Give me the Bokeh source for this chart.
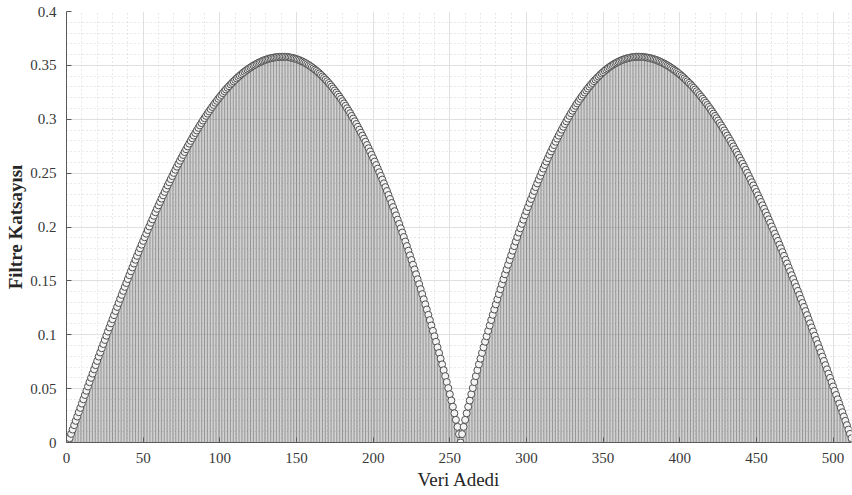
from bokeh.plotting import figure
from bokeh.models import Range1d, FixedTicker, ColumnDataSource
from bokeh.embed import file_html
from bokeh.resources import INLINE

# ---- data (stem plot, 512 samples) ----
left_rise = [
    0.0000, 0.0040, 0.0080, 0.0120, 0.0161, 0.0201, 0.0241, 0.0281, 0.0321, 0.0361,
    0.0401, 0.0441, 0.0480, 0.0520, 0.0560, 0.0600, 0.0639, 0.0679, 0.0718, 0.0757,
    0.0797, 0.0836, 0.0875, 0.0914, 0.0952, 0.0991, 0.1030, 0.1068, 0.1106, 0.1144,
    0.1182, 0.1220, 0.1258, 0.1295, 0.1333, 0.1370, 0.1407, 0.1444, 0.1480, 0.1517,
    0.1553, 0.1589, 0.1625, 0.1661, 0.1696, 0.1732, 0.1767, 0.1802, 0.1836, 0.1871,
    0.1905, 0.1938, 0.1972, 0.2005, 0.2039, 0.2071, 0.2104, 0.2137, 0.2169, 0.2201,
    0.2232, 0.2263, 0.2294, 0.2325, 0.2355, 0.2386, 0.2415, 0.2444, 0.2473, 0.2502,
    0.2531, 0.2560, 0.2587, 0.2615, 0.2642, 0.2669, 0.2696, 0.2722, 0.2748, 0.2774,
    0.2799, 0.2824, 0.2848, 0.2872, 0.2896, 0.2920, 0.2943, 0.2965, 0.2988, 0.3010,
    0.3031, 0.3052, 0.3073, 0.3094, 0.3114, 0.3133, 0.3153, 0.3171, 0.3190, 0.3208,
    0.3225, 0.3243, 0.3260, 0.3276, 0.3292, 0.3307, 0.3323, 0.3337, 0.3352, 0.3365,
    0.3379, 0.3392, 0.3405, 0.3417, 0.3429, 0.3440, 0.3451, 0.3461, 0.3471, 0.3481,
    0.3490, 0.3499, 0.3507, 0.3515, 0.3522, 0.3529, 0.3536, 0.3542, 0.3548, 0.3553,
    0.3557, 0.3562, 0.3566, 0.3569, 0.3572, 0.3574, 0.3576, 0.3578, 0.3579, 0.3580,
    0.3580,
]
left_fall = [
    0.3580, 0.3579, 0.3578, 0.3576, 0.3573, 0.3570, 0.3567, 0.3563, 0.3558, 0.3553,
    0.3548, 0.3541, 0.3535, 0.3527, 0.3520, 0.3511, 0.3502, 0.3493, 0.3483, 0.3472,
    0.3461, 0.3450, 0.3437, 0.3425, 0.3411, 0.3397, 0.3383, 0.3368, 0.3353, 0.3336,
    0.3320, 0.3303, 0.3285, 0.3267, 0.3248, 0.3229, 0.3209, 0.3189, 0.3168, 0.3147,
    0.3125, 0.3102, 0.3079, 0.3056, 0.3031, 0.3006, 0.2981, 0.2956, 0.2930, 0.2903,
    0.2875, 0.2848, 0.2820, 0.2791, 0.2761, 0.2731, 0.2701, 0.2670, 0.2639, 0.2607,
    0.2575, 0.2542, 0.2508, 0.2474, 0.2440, 0.2405, 0.2370, 0.2334, 0.2297, 0.2260,
    0.2223, 0.2185, 0.2147, 0.2108, 0.2068, 0.2029, 0.1988, 0.1948, 0.1907, 0.1865,
    0.1823, 0.1780, 0.1737, 0.1694, 0.1650, 0.1606, 0.1561, 0.1515, 0.1470, 0.1423,
    0.1377, 0.1329, 0.1282, 0.1234, 0.1185, 0.1136, 0.1086, 0.1036, 0.0986, 0.0935,
    0.0883, 0.0831, 0.0778, 0.0725, 0.0671, 0.0616, 0.0561, 0.0505, 0.0448, 0.0390,
    0.0332, 0.0271, 0.0210, 0.0145, 0.0078,
]
middle = [0.0000]
right_rise = [
    0.0078, 0.0145, 0.0210, 0.0271, 0.0332,
    0.0390, 0.0448, 0.0505, 0.0561, 0.0616, 0.0671, 0.0725, 0.0778, 0.0831, 0.0883,
    0.0935, 0.0986, 0.1036, 0.1086, 0.1136, 0.1185, 0.1234, 0.1282, 0.1329, 0.1377,
    0.1423, 0.1470, 0.1515, 0.1561, 0.1606, 0.1650, 0.1694, 0.1737, 0.1780, 0.1823,
    0.1865, 0.1907, 0.1948, 0.1988, 0.2029, 0.2068, 0.2108, 0.2147, 0.2185, 0.2223,
    0.2260, 0.2297, 0.2334, 0.2370, 0.2405, 0.2440, 0.2474, 0.2508, 0.2542, 0.2575,
    0.2607, 0.2639, 0.2670, 0.2701, 0.2731, 0.2761, 0.2791, 0.2820, 0.2848, 0.2875,
    0.2903, 0.2930, 0.2956, 0.2981, 0.3006, 0.3031, 0.3056, 0.3079, 0.3102, 0.3125,
    0.3147, 0.3168, 0.3189, 0.3209, 0.3229, 0.3248, 0.3267, 0.3285, 0.3303, 0.3320,
    0.3336, 0.3353, 0.3368, 0.3383, 0.3397, 0.3411, 0.3425, 0.3437, 0.3450, 0.3461,
    0.3472, 0.3483, 0.3493, 0.3502, 0.3511, 0.3520, 0.3527, 0.3535, 0.3541, 0.3548,
    0.3553, 0.3558, 0.3563, 0.3567, 0.3570, 0.3573, 0.3576, 0.3578, 0.3579, 0.3580,
]
right_fall = [
    0.3580, 0.3580, 0.3579, 0.3578, 0.3576, 0.3574, 0.3572, 0.3569, 0.3566, 0.3562,
    0.3557, 0.3553, 0.3548, 0.3542, 0.3536, 0.3529, 0.3522, 0.3515, 0.3507, 0.3499,
    0.3490, 0.3481, 0.3471, 0.3461, 0.3451, 0.3440, 0.3429, 0.3417, 0.3405, 0.3392,
    0.3379, 0.3365, 0.3352, 0.3337, 0.3323, 0.3307, 0.3292, 0.3276, 0.3260, 0.3243,
    0.3225, 0.3208, 0.3190, 0.3171, 0.3153, 0.3133, 0.3114, 0.3094, 0.3073, 0.3052,
    0.3031, 0.3010, 0.2988, 0.2965, 0.2943, 0.2920, 0.2896, 0.2872, 0.2848, 0.2824,
    0.2799, 0.2774, 0.2748, 0.2722, 0.2696, 0.2669, 0.2642, 0.2615, 0.2587, 0.2560,
    0.2531, 0.2502, 0.2473, 0.2444, 0.2415, 0.2386, 0.2355, 0.2325, 0.2294, 0.2263,
    0.2232, 0.2201, 0.2169, 0.2137, 0.2104, 0.2071, 0.2039, 0.2005, 0.1972, 0.1938,
    0.1905, 0.1871, 0.1836, 0.1802, 0.1767, 0.1732, 0.1696, 0.1661, 0.1625, 0.1589,
    0.1553, 0.1517, 0.1480, 0.1444, 0.1407, 0.1370, 0.1333, 0.1295, 0.1258, 0.1220,
    0.1182, 0.1144, 0.1106, 0.1068, 0.1030, 0.0991, 0.0952, 0.0914, 0.0875, 0.0836,
    0.0797, 0.0757, 0.0718, 0.0679, 0.0639, 0.0600, 0.0560, 0.0520, 0.0480, 0.0441,
    0.0401, 0.0361, 0.0321, 0.0281, 0.0241, 0.0201, 0.0161, 0.0120, 0.0080, 0.0040,
]
coef = left_rise + left_fall + middle + right_rise + right_fall
sample = list(range(1, len(coef) + 1))
base = [0.0] * len(coef)

x_ticks = [0, 50, 100, 150, 200, 250, 300, 350, 400, 450, 500]
x_minor = [v for v in range(0, 513, 10)]
y_ticks = [0, 0.05, 0.1, 0.15, 0.2, 0.25, 0.3, 0.35, 0.4]
y_labels = ["0", "0.05", "0.1", "0.15", "0.2", "0.25", "0.3", "0.35", "0.4"]
y_minor = [i / 100 for i in range(0, 41)]
x_title = "Veri Adedi"
y_title = "Filtre Katsayısı"

FONT = "Liberation Serif"

src = ColumnDataSource(dict(x=sample, y=coef, y0=base))

p = figure(width=852, height=495, output_backend="svg", toolbar_location=None,
           x_range=Range1d(0, 512), y_range=Range1d(0, 0.4),
           min_border_left=66, min_border_right=1, min_border_top=11,
           min_border_bottom=53)
p.outline_line_color = None
p.background_fill_color = "white"

p.segment(x0="x", y0="y0", x1="x", y1="y", source=src,
          line_color="#6a6a6a", line_width=0.8, line_alpha=0.88)
p.scatter("x", "y", source=src, marker="circle", size=7,
          fill_color="#f4f4f4", line_color="#505050", line_width=1.0)

p.xaxis.ticker = FixedTicker(ticks=x_ticks, minor_ticks=x_minor)
p.yaxis.ticker = FixedTicker(ticks=y_ticks, minor_ticks=y_minor)
p.yaxis.major_label_overrides = {t: l for t, l in zip(y_ticks, y_labels)}

for ax in (p.xaxis[0], p.yaxis[0]):
    ax.axis_line_color = "#5a5a5a"
    ax.axis_line_width = 1
    ax.major_tick_in = 5
    ax.major_tick_out = 0
    ax.major_tick_line_color = "#5a5a5a"
    ax.minor_tick_line_color = None
    ax.major_label_text_font = FONT
    ax.major_label_text_font_size = "15px"
    ax.major_label_text_color = "#383838"
    ax.axis_label_text_font = FONT
    ax.axis_label_text_color = "#262626"

p.xaxis.axis_label = x_title
p.xaxis.axis_label_text_font_size = "19px"
p.xaxis.axis_label_text_font_style = "normal"
p.xaxis.major_label_standoff = 6
p.xaxis.axis_label_standoff = 3
p.yaxis.axis_label = y_title
p.yaxis.axis_label_text_font_size = "19px"
p.yaxis.axis_label_text_font_style = "bold"
p.yaxis.major_label_standoff = 6
p.yaxis.axis_label_standoff = 1

for g in (p.xgrid[0], p.ygrid[0]):
    g.grid_line_color = "#e0e0e0"
    g.grid_line_width = 1
    g.minor_grid_line_color = "#d2d2d2"
    g.minor_grid_line_width = 1
    g.minor_grid_line_dash = "1 3"

open("out.html", "w").write(file_html(p, INLINE))
